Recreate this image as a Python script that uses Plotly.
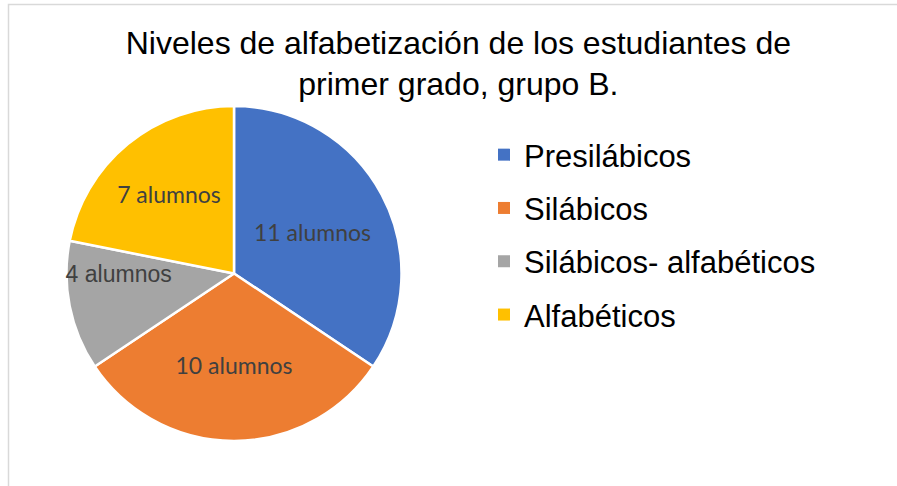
import plotly.graph_objects as go

categorias = ['Presilábicos', 'Silábicos', 'Silábicos- alfabéticos', 'Alfabéticos']
alumnos = [11, 10, 4, 7]
etiquetas = ['11 alumnos', '10 alumnos', '4 alumnos', '7 alumnos']
colores = ['#4472C4', '#ED7D31', '#A5A5A5', '#FFC000']

W, H = 897, 486

fig = go.Figure()

fig.add_trace(go.Pie(
    labels=categorias,
    values=alumnos,
    text=etiquetas,
    textinfo='text',
    textposition='inside',
    insidetextorientation='horizontal',
    sort=False,
    direction='clockwise',
    rotation=0,
    marker=dict(colors=colores, line=dict(color='white', width=2.5)),
    textfont=dict(
        family=['Lato', 'Lato', 'Liberation Sans', 'Lato'],
        size=23,
        color='#404040',
    ),
    showlegend=False,
    hoverinfo='label+value',
    domain=dict(x=[66 / W, 402 / W], y=[1 - 441 / H, 1 - 106 / H]),
))

# leyenda con cuadros (una entrada por categoria, para controlar el espaciado)
for cat, col in zip(categorias, colores):
    fig.add_trace(go.Scatter(
        x=[None], y=[None], mode='markers', name=cat, legendgroup=cat,
        marker=dict(symbol='square', size=12, color=col),
    ))

fig.update_layout(
    width=W,
    height=H,
    margin=dict(l=0, r=0, t=0, b=0, autoexpand=False),
    paper_bgcolor='white',
    plot_bgcolor='white',
    title=dict(
        text='Niveles de alfabetización de los estudiantes de<br>primer grado, grupo B.',
        x=0.511, xanchor='center',
        y=1 - 53.5 / H, yanchor='top',
        font=dict(family='Liberation Sans, Arial', size=32, color='black'),
    ),
    legend=dict(
        x=484 / W, xanchor='left',
        y=1 - 128 / H, yanchor='top',
        font=dict(family='Liberation Sans, Arial', size=31, color='black'),
        tracegroupgap=10,
        bgcolor='rgba(0,0,0,0)',
    ),
    xaxis=dict(visible=False),
    yaxis=dict(visible=False),
    uniformtext=dict(mode='show', minsize=23),
    shapes=[dict(
        type='rect', xref='paper', yref='paper',
        x0=8.5 / W, x1=1.02, y0=-0.02, y1=1 - 4.5 / H,
        line=dict(color='#D9D9D9', width=1.5),
        layer='below',
    )],
)

# sin el margen por defecto del <body>
fig.write_html('out.html', config={'displayModeBar': False},
               post_script="document.body.style.margin='0';")
